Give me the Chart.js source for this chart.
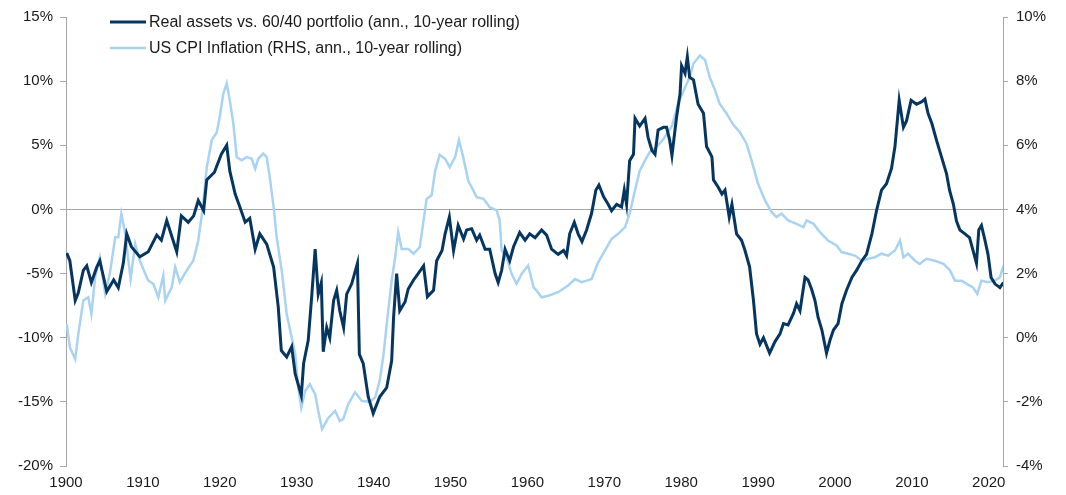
<!DOCTYPE html>
<html>
<head>
<meta charset="utf-8">
<script src="https://cdn.jsdelivr.net/npm/chart.js@4.4.1/dist/chart.umd.min.js"></script>
<style>
  html, body { margin: 0; padding: 0; background: #fff; }
  #chart { display: block; }
</style>
</head>
<body>
<canvas id="chart" width="1066" height="495"></canvas>
<script>
// real assets vs 60/40 (left axis, %)
var realYears = [1900.1, 1900.5, 1901.2, 1901.6, 1902.25, 1902.7, 1903.3, 1904.0, 1904.4, 1905.3,
  1906.2, 1906.8, 1907.45, 1907.9, 1908.5, 1909.6, 1910.7, 1911.8, 1912.4, 1913.1,
  1914.4, 1915.0, 1915.9, 1916.6, 1917.2, 1917.9, 1918.3, 1919.3, 1920.2, 1920.9,
  1921.3, 1922.0, 1922.6, 1923.3, 1923.9, 1924.6, 1925.2, 1926.1, 1927.0, 1927.6,
  1928.0, 1928.7, 1929.35, 1929.8, 1930.6, 1930.9, 1931.5, 1931.95, 1932.4, 1932.8,
  1933.2, 1933.45, 1933.9, 1934.3, 1934.8, 1935.2, 1935.6, 1936.1, 1936.5, 1937.15,
  1937.9, 1938.15, 1938.65, 1939.3, 1939.95, 1940.8, 1941.7, 1942.35, 1942.6, 1943.0,
  1943.4, 1944.1, 1944.5, 1945.2, 1945.8, 1946.5, 1947.0, 1947.8, 1948.2, 1948.9,
  1949.3, 1949.85, 1950.4, 1951.0, 1951.7, 1952.1, 1952.75, 1953.4, 1953.8, 1954.5,
  1955.1, 1955.8, 1956.2, 1956.65, 1957.1, 1957.7, 1958.2, 1959.0, 1959.7, 1960.3,
  1961.0, 1961.85, 1962.5, 1963.15, 1964.0, 1964.7, 1965.1, 1965.5, 1966.1, 1966.6,
  1967.1, 1967.7, 1968.35, 1968.9, 1969.3, 1969.9, 1970.5, 1970.95, 1971.6, 1972.25,
  1972.6, 1972.9, 1973.3, 1973.8, 1974.0, 1974.6, 1975.3, 1975.7, 1976.2, 1976.6,
  1977.0, 1977.7, 1978.1, 1978.5, 1978.8, 1979.4, 1979.85, 1980.05, 1980.5, 1980.8,
  1981.1, 1981.6, 1982.2, 1982.9, 1983.3, 1984.0, 1984.2, 1984.8, 1985.3, 1985.7,
  1986.25, 1986.6, 1987.2, 1987.85, 1988.3, 1988.9, 1989.4, 1989.8, 1990.25, 1990.7,
  1991.5, 1992.2, 1992.85, 1993.3, 1993.9, 1994.6, 1995.0, 1995.45, 1996.1, 1996.5,
  1996.95, 1997.4, 1997.8, 1998.3, 1998.9, 1999.35, 1999.8, 2000.4, 2000.9, 2001.5,
  2002.2, 2002.8, 2003.5, 2004.1, 2004.8, 2005.4, 2006.05, 2006.7, 2007.35, 2007.8,
  2008.35, 2008.9, 2009.3, 2009.9, 2010.6, 2011.3, 2011.7, 2012.1, 2012.6, 2013.2,
  2013.85, 2014.5, 2014.9, 2015.4, 2015.8, 2016.25, 2016.9, 2017.5, 2017.95, 2018.4,
  2018.7, 2019.05, 2019.5, 2019.9, 2020.3, 2020.8, 2021.45, 2021.9];
var realValues = [-3.4, -4.0, -7.1, -6.5, -4.75, -4.4, -5.7, -4.5, -4.0, -6.4,
  -5.5, -6.1, -4.2, -1.9, -2.9, -3.7, -3.3, -2.0, -2.4, -0.86,
  -3.3, -0.5, -1.0, -0.5, 0.7, -0.1, 2.3, 2.9, 4.3, 5.0,
  3.0, 1.2, 0.2, -1.0, -0.7, -3.1, -1.9, -2.7, -4.5, -7.6,
  -11.0, -11.5, -10.7, -12.8, -14.5, -12.0, -10.2, -6.8, -3.1, -6.6,
  -5.7, -11.1, -9.2, -10.0, -7.1, -6.3, -7.9, -9.2, -6.6, -5.8,
  -4.2, -11.3, -12.0, -14.6, -15.9, -14.6, -13.9, -11.8, -8.4, -5.0,
  -7.9, -7.2, -6.2, -5.5, -5.0, -4.4, -6.8, -6.3, -4.0, -3.2,
  -1.9, -0.6, -3.2, -1.25, -2.3, -1.6, -1.5, -2.4, -2.0, -3.1,
  -3.1, -5.0, -5.7, -4.75, -3.1, -4.0, -2.9, -1.8, -2.4, -1.9,
  -2.2, -1.6, -2.0, -3.1, -3.5, -3.2, -3.6, -1.9, -1.0, -1.9,
  -2.5, -1.6, -0.3, 1.5, 1.9, 1.0, 0.4, -0.1, 0.4, 0.2,
  1.5, 0.4, 3.8, 4.3, 7.1, 6.5, 7.1, 5.6, 4.6, 4.3,
  6.2, 6.4, 6.4, 5.4, 4.2, 7.2, 9.0, 11.2, 10.6, 11.9,
  10.3, 10.1, 8.2, 7.5, 4.9, 4.1, 2.3, 1.75, 1.2, 1.5,
  -0.6, 0.4, -1.9, -2.4, -3.2, -4.5, -7.1, -9.7, -10.5, -10.0,
  -11.2, -10.3, -9.7, -8.9, -9.0, -8.1, -7.35, -7.9, -5.3, -5.5,
  -6.2, -7.1, -8.4, -9.4, -11.2, -10.2, -9.4, -8.9, -7.35, -6.3,
  -5.3, -4.75, -4.0, -3.5, -1.9, -0.1, 1.5, 2.0, 3.2, 4.9,
  8.5, 6.4, 6.9, 8.5, 8.2, 8.4, 8.6, 7.5, 6.7, 5.4,
  4.1, 2.8, 1.5, 0.4, -0.9, -1.6, -1.9, -2.2, -3.2, -4.2,
  -1.6, -1.25, -2.4, -3.5, -5.3, -5.8, -6.1, -5.7];

// US CPI inflation (right axis, %)
var cpiYears = [1900.1, 1900.5, 1901.2, 1901.6, 1902.25, 1902.9, 1903.3, 1903.8, 1904.4, 1905.1,
  1905.7, 1906.4, 1906.8, 1907.2, 1907.7, 1908.4, 1909.0, 1909.6, 1910.7, 1911.35,
  1912.0, 1912.65, 1912.9, 1913.75, 1914.2, 1914.8, 1915.7, 1916.55, 1917.2, 1917.8,
  1918.3, 1918.95, 1919.6, 1920.0, 1920.45, 1920.9, 1921.3, 1921.75, 1922.2, 1922.85,
  1923.5, 1924.15, 1924.6, 1925.0, 1925.65, 1926.1, 1926.5, 1927.0, 1927.4, 1928.05,
  1928.7, 1929.35, 1929.8, 1930.2, 1930.6, 1931.1, 1931.7, 1932.4, 1932.8, 1933.3,
  1934.1, 1935.0, 1935.6, 1936.05, 1936.7, 1937.6, 1938.45, 1939.5, 1940.2, 1940.8,
  1941.3, 1941.9, 1942.35, 1942.8, 1943.2, 1943.65, 1944.5, 1945.2, 1946.0, 1946.5,
  1946.9, 1947.55, 1948.0, 1948.6, 1949.3, 1949.9, 1950.6, 1951.1, 1951.65, 1952.3,
  1952.95, 1953.4, 1954.3, 1955.1, 1956.0, 1956.4, 1956.65, 1957.3, 1957.95, 1958.6,
  1959.25, 1960.1, 1960.8, 1961.2, 1961.85, 1962.7, 1964.0, 1965.3, 1966.2, 1967.05,
  1967.7, 1968.35, 1969.2, 1970.1, 1970.95, 1971.8, 1972.7, 1973.3, 1974.0, 1974.6,
  1975.3, 1975.9, 1976.8, 1977.7, 1978.8, 1979.6, 1980.5, 1981.1, 1981.6, 1982.45,
  1983.1, 1983.7, 1984.4, 1985.0, 1985.9, 1986.8, 1987.6, 1988.5, 1989.15, 1990.0,
  1990.9, 1991.75, 1992.4, 1993.05, 1993.9, 1995.0, 1995.9, 1996.3, 1997.2, 1998.05,
  1999.1, 2000.2, 2000.85, 2001.7, 2002.6, 2003.5, 2004.3, 2005.2, 2006.05, 2006.9,
  2007.8, 2008.45, 2008.9, 2009.5, 2010.4, 2011.0, 2011.9, 2013.0, 2014.1, 2014.95,
  2015.6, 2016.5, 2017.1, 2017.95, 2018.5, 2019.05, 2019.9, 2020.8, 2021.45, 2021.9];
var cpiValues = [0.43, -0.3, -0.67, 0.12, 1.16, 1.26, 0.74, 1.9, 2.5, 1.37,
  2.0, 3.13, 3.13, 3.87, 3.24, 1.83, 2.93, 2.4, 1.78, 1.68,
  1.26, 1.94, 1.16, 1.57, 2.2, 1.73, 2.1, 2.4, 3.03, 4.07,
  5.3, 6.16, 6.4, 6.9, 7.6, 7.93, 7.4, 6.7, 5.63, 5.53,
  5.63, 5.58, 5.27, 5.58, 5.74, 5.63, 5.0, 4.07, 3.13, 2.1,
  0.74, 0.0, -0.5, -1.55, -2.18, -1.66, -1.45, -1.76, -2.28, -2.85,
  -2.5, -2.28, -2.6, -2.54, -2.07, -1.7, -1.97, -2.0, -1.86, -1.34,
  -0.5, 0.84, 1.78, 2.5, 3.29, 2.77, 2.77, 2.62, 2.82, 3.66,
  4.33, 4.44, 5.2, 5.7, 5.58, 5.32, 5.63, 6.16, 5.63, 4.9,
  4.6, 4.38, 4.33, 4.07, 3.97, 3.66, 2.72, 2.5, 1.99, 1.68,
  1.99, 2.25, 1.57, 1.47, 1.26, 1.31, 1.42, 1.63, 1.83, 1.73,
  1.78, 1.83, 2.35, 2.72, 3.08, 3.24, 3.45, 3.87, 4.6, 5.2,
  5.53, 5.79, 5.95, 6.2, 6.6, 7.3, 7.8, 8.13, 8.55, 8.8,
  8.66, 8.13, 7.72, 7.3, 6.99, 6.63, 6.42, 6.05, 5.53, 4.8,
  4.28, 3.92, 3.76, 3.87, 3.66, 3.55, 3.45, 3.66, 3.55, 3.29,
  3.03, 2.88, 2.67, 2.62, 2.56, 2.4, 2.46, 2.51, 2.62, 2.56,
  2.72, 3.03, 2.51, 2.62, 2.4, 2.3, 2.46, 2.4, 2.3, 2.1,
  1.78, 1.78, 1.68, 1.57, 1.37, 1.78, 1.73, 1.78, 1.88, 2.25];

var seriesNames = ['Real assets vs. 60/40 portfolio (ann., 10-year rolling)',
  'US CPI Inflation (RHS, ann., 10-year rolling)'];

var FONT = '"Liberation Sans", Arial, sans-serif';
var axisGray = '#a6a6a6';

function toPoints(xs, ys) {
  return xs.map(function(x, i) { return { x: x, y: ys[i] }; });
}

// legend drawn over the plot, top left
var legendPlugin = {
  id: 'overLegend',
  afterDraw: function(chart) {
    var ctx = chart.ctx;
    ctx.save();
    ctx.font = '16px ' + FONT;
    ctx.textBaseline = 'middle';
    chart.data.datasets.forEach(function(ds, i) {
      var y = 22 + i * 26;
      ctx.strokeStyle = ds.borderColor;
      ctx.lineWidth = ds.borderWidth;
      ctx.beginPath();
      ctx.moveTo(110, y);
      ctx.lineTo(146, y);
      ctx.stroke();
      ctx.fillStyle = '#1a1a1a';
      ctx.fillText(ds.label, 149, y + 1);
    });
    ctx.restore();
  }
};

const ctx = document.getElementById('chart').getContext('2d');
var chart = new Chart(ctx, {
  type: 'line',
  data: {
    datasets: [{
      label: seriesNames[0],
      data: toPoints(realYears, realValues),
      borderColor: '#06365f',
      borderWidth: 3,
      yAxisID: 'y',
      pointRadius: 0,
      tension: 0
    }, {
      label: seriesNames[1],
      data: toPoints(cpiYears, cpiValues),
      borderColor: '#a9d3f1',
      borderWidth: 2.5,
      yAxisID: 'y1',
      pointRadius: 0,
      tension: 0
    }]
  },
  options: {
    responsive: false,
    animation: false,
    layout: { padding: { top: 17, left: 0, right: 0, bottom: 0 } },
    plugins: {
      legend: { display: false },
      tooltip: { enabled: false }
    },
    scales: {
      x: {
        type: 'linear',
        min: 1900,
        max: 2021.85,
        afterFit: function(scale) { scale.height = 29; },
        border: { display: false },
        grid: { display: false, drawTicks: false },
        ticks: {
          stepSize: 10,
          includeBounds: false,
          autoSkip: false,
          maxRotation: 0,
          padding: 8,
          color: '#1a1a1a',
          font: { family: FONT, size: 15 },
          callback: function(v) { return v % 10 === 0 ? String(v) : ''; }
        }
      },
      y: {
        position: 'left',
        min: -20,
        max: 15,
        afterFit: function(scale) { scale.width = 66; },
        border: { display: true, color: axisGray, width: 1 },
        grid: {
          drawOnChartArea: true,
          color: function(c) { return c.tick && c.tick.value === 0 ? axisGray : 'rgba(0,0,0,0)'; },
          tickColor: axisGray,
          tickLength: 6,
          lineWidth: 1
        },
        ticks: {
          stepSize: 5,
          padding: 7,
          color: '#1a1a1a',
          font: { family: FONT, size: 15 },
          callback: function(v) { return v + '%'; }
        }
      },
      y1: {
        position: 'right',
        min: -4,
        max: 10,
        afterFit: function(scale) { scale.width = 63; },
        border: { display: true, color: axisGray, width: 1 },
        grid: {
          drawOnChartArea: false,
          tickColor: axisGray,
          tickLength: 5
        },
        ticks: {
          stepSize: 2,
          padding: 8,
          color: '#1a1a1a',
          font: { family: FONT, size: 15 },
          callback: function(v) { return v + '%'; }
        }
      }
    }
  },
  plugins: [legendPlugin]
});
</script>
</body>
</html>
